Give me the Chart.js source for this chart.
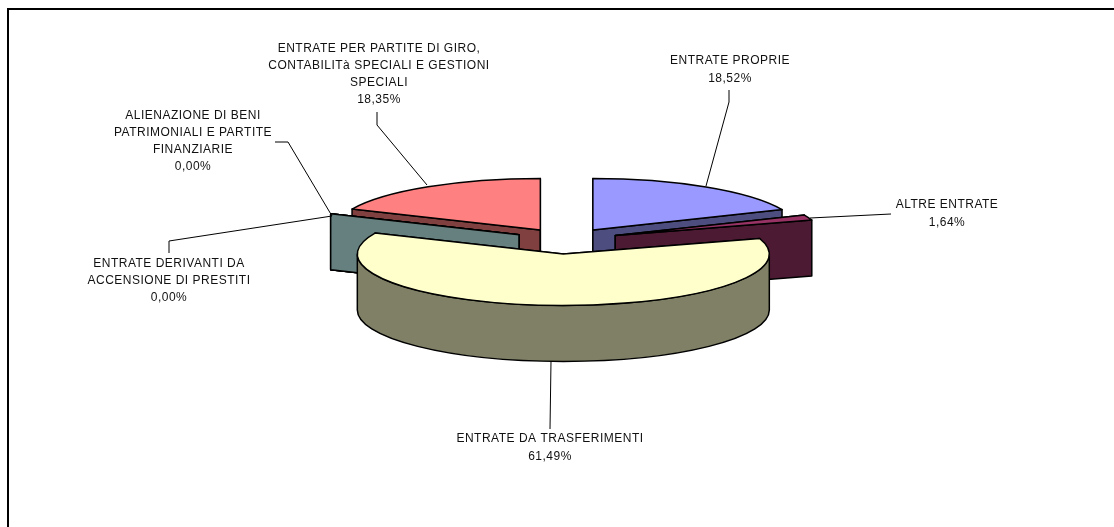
<!DOCTYPE html>
<html lang="it">
<head>
    <meta charset="UTF-8">
    <title>Entrate</title>
    <script src="https://cdn.jsdelivr.net/npm/chart.js"></script>
    <style>
        html, body { margin: 0; padding: 0; background: #fff; overflow: hidden; }
        canvas { display: block; }
    </style>
</head>
<body>
    <canvas id="grafico" width="1114" height="527"></canvas>
    <script>
        // Dati, in senso orario dalle ore 12
        const categorie = [
            'ENTRATE PROPRIE',
            'ALTRE ENTRATE',
            'ENTRATE DA TRASFERIMENTI',
            'ENTRATE DERIVANTI DA ACCENSIONE DI PRESTITI',
            'ALIENAZIONE DI BENI PATRIMONIALI E PARTITE FINANZIARIE',
            'ENTRATE PER PARTITE DI GIRO, CONTABILITà SPECIALI E GESTIONI SPECIALI'
        ];
        const valori = [18.52, 1.64, 61.49, 0, 0, 18.35];

        // Righe delle etichette
        const righe = [
            ['ENTRATE PROPRIE'],
            ['ALTRE ENTRATE'],
            ['ENTRATE DA TRASFERIMENTI'],
            ['ENTRATE DERIVANTI DA', 'ACCENSIONE DI PRESTITI'],
            ['ALIENAZIONE DI BENI', 'PATRIMONIALI E PARTITE', 'FINANZIARIE'],
            ['ENTRATE PER PARTITE DI GIRO,', 'CONTABILITà SPECIALI E GESTIONI', 'SPECIALI']
        ];

        const coloriSopra = ['#9999FF', '#993366', '#FFFFCC', '#CCFFFF', '#660066', '#FF8080'];
        const coloriLato = ['#4D4D80', '#4D1A33', '#808066', '#668080', '#330033', '#804040'];

        // Impaginazione: prima riga del testo e linee guida
        const posEtichette = [
            { x: 730, y: 61, passo: 18, guida: [[729, 90], [729, 102], [706, 186]] },
            { x: 947, y: 205, passo: 17.5, guida: [[810, 218], [891, 214]] },
            { x: 550, y: 439, passo: 18, guida: [[551, 361], [550, 429]] },
            { x: 169, y: 264, passo: 17, guida: [[169, 253], [169, 241], [332, 216]] },
            { x: 193, y: 116, passo: 17, guida: [[275, 142], [288, 142], [332, 216]] },
            { x: 379, y: 49, passo: 17, guida: [[377, 112], [377, 125], [427, 185]] }
        ];

        const SCHIACCIA = 0.25;
        const SPESSORE = 56;
        const esploso = [48, 52, 56, 52, 52, 48];
        const ordine = [5, 0, 1, 4, 3, 2]; // dal fondo verso il davanti

        function formatta(v) {
            return v.toFixed(2).replace('.', ',') + '%';
        }

        function disegnaFetta(ctx, arc, i) {
            const medio = (arc.startAngle + arc.endAngle) / 2;
            const cx = arc.x + Math.cos(medio) * esploso[i];
            const cy = arc.y + Math.sin(medio) * esploso[i] * SCHIACCIA;
            const rx = arc.outerRadius;
            const ry = rx * SCHIACCIA;

            ctx.lineWidth = 1.5;
            ctx.strokeStyle = '#000';
            ctx.lineJoin = 'round';
            ctx.fillStyle = coloriLato[i];

            // pareti dei tagli
            [arc.startAngle, arc.endAngle].forEach(a => {
                const px = cx + Math.cos(a) * rx;
                const py = cy + Math.sin(a) * ry;
                ctx.beginPath();
                ctx.moveTo(cx, cy);
                ctx.lineTo(px, py);
                ctx.lineTo(px, py + SPESSORE);
                ctx.lineTo(cx, cy + SPESSORE);
                ctx.closePath();
                ctx.fill();
                ctx.stroke();
            });

            // bordo curvo, solo la parte davanti
            const a0 = Math.max(arc.startAngle, 0);
            const a1 = Math.min(arc.endAngle, Math.PI);
            if (a1 > a0) {
                ctx.beginPath();
                ctx.ellipse(cx, cy, rx, ry, 0, a0, a1);
                ctx.ellipse(cx, cy + SPESSORE, rx, ry, 0, a1, a0, true);
                ctx.closePath();
                ctx.fill();
                ctx.stroke();
            }

            // faccia superiore
            if (arc.endAngle > arc.startAngle) {
                ctx.save();
                ctx.translate(cx, cy);
                ctx.scale(1, SCHIACCIA);
                ctx.translate(-arc.x, -arc.y);
                arc.draw(ctx);
                ctx.restore();
                ctx.lineWidth = 1.5;
                ctx.strokeStyle = '#000';
                ctx.beginPath();
                ctx.moveTo(cx, cy);
                ctx.ellipse(cx, cy, rx, ry, 0, arc.startAngle, arc.endAngle);
                ctx.closePath();
                ctx.stroke();
            }
        }

        const torta3d = {
            id: 'torta3d',
            beforeDatasetsDraw(chart) {
                const ctx = chart.ctx;
                const fette = chart.getDatasetMeta(0).data;
                ctx.save();
                ordine.forEach(i => disegnaFetta(ctx, fette[i], i));
                ctx.restore();
                return false;
            },
            afterDraw(chart) {
                const ctx = chart.ctx;
                ctx.save();

                // cornice, solo alto e sinistra restano nell'immagine
                ctx.strokeStyle = '#000';
                ctx.lineWidth = 2;
                ctx.beginPath();
                ctx.moveTo(8, 527);
                ctx.lineTo(8, 9);
                ctx.lineTo(1114, 9);
                ctx.stroke();

                // linee guida
                ctx.lineWidth = 1;
                posEtichette.forEach(p => {
                    ctx.beginPath();
                    p.guida.forEach((g, k) => k ? ctx.lineTo(g[0], g[1]) : ctx.moveTo(g[0], g[1]));
                    ctx.stroke();
                });

                // etichette
                ctx.fillStyle = '#111';
                ctx.font = '12px "Liberation Sans"';
                ctx.letterSpacing = '0.5px';
                ctx.textAlign = 'center';
                ctx.textBaseline = 'middle';
                righe.forEach((testo, i) => {
                    const p = posEtichette[i];
                    testo.concat(formatta(valori[i])).forEach((r, k) => {
                        ctx.fillText(r, p.x, p.y + k * p.passo);
                    });
                });
                ctx.restore();
            }
        };

        new Chart(document.getElementById('grafico'), {
            type: 'pie',
            data: {
                labels: categorie,
                datasets: [{
                    data: valori,
                    backgroundColor: coloriSopra,
                    borderWidth: 0,
                    radius: 206
                }]
            },
            options: {
                responsive: false,
                animation: false,
                layout: { padding: { left: 19, bottom: 47 } },
                plugins: {
                    legend: { display: false },
                    tooltip: { enabled: false }
                }
            },
            plugins: [torta3d]
        });
    </script>
</body>
</html>
